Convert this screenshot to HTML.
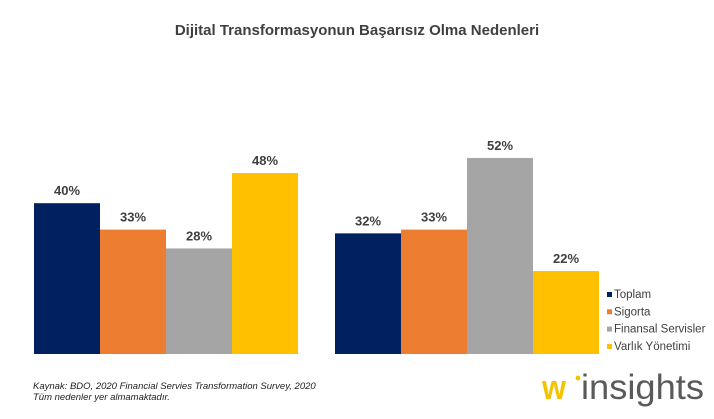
<!DOCTYPE html>
<html><head><meta charset="utf-8"><style>
body{margin:0;background:#fff;font-family:"Liberation Sans",sans-serif}
#c{position:relative;width:714px;height:419px;overflow:hidden}
</style></head><body>
<div id="c">
<svg id="s" width="714" height="419">
<text x="357" y="35" text-anchor="middle" font-size="15" font-weight="bold" fill="#404040">Dijital Transformasyonun Başarısız Olma Nedenleri</text>
<g id="bars"></g>
<g id="legend"></g>
<text x="33" y="389" font-size="9.5" font-style="italic" fill="#222">Kaynak: BDO, 2020 Financial Servies Transformation Survey, 2020</text>
<text x="33" y="400" font-size="9.5" font-style="italic" fill="#222">Tüm nedenler yer almamaktadır.</text>
<g>
<text x="542" y="399" font-size="34" font-weight="bold" fill="#f5c400" textLength="24" lengthAdjust="spacingAndGlyphs">w</text>
<circle cx="578" cy="378" r="2.4" fill="#f5c400"/>
<text x="581" y="399" font-size="35" fill="#5a5a5a" textLength="123" lengthAdjust="spacingAndGlyphs">insights</text>
</g>
</svg>
</div>
<script>
const groups=["Grup 1","Grup 2"];
const series=["Toplam","Sigorta","Finansal Servisler","Varlık Yönetimi"];
const colors=["#002060","#ed7d31","#a5a5a5","#ffc000"];
const values=[[40,33,28,48],[32,33,52,22]];
const ns="http://www.w3.org/2000/svg";
const base=354, pxPer=3.77, groupX=[34,335], bw=66;
const y=v=>base-v*pxPer;
const gb=document.getElementById('bars');
values.forEach((row,gi)=>{row.forEach((v,si)=>{
 const r=document.createElementNS(ns,'rect');
 const x=groupX[gi]+si*bw;
 r.setAttribute('x',x);r.setAttribute('y',y(v));r.setAttribute('width',bw);r.setAttribute('height',base-y(v));r.setAttribute('fill',colors[si]);
 
 
 gb.appendChild(r);
 const t=document.createElementNS(ns,'text');
 t.setAttribute('x',x+bw/2);t.setAttribute('y',y(v)-8);t.setAttribute('text-anchor','middle');t.setAttribute('font-size','13');t.setAttribute('font-weight','bold');t.setAttribute('fill','#404040');
 t.textContent=v+'%';
 
 
 gb.appendChild(t);
});});
const gl=document.getElementById('legend');
series.forEach((s,i)=>{
 const yy=298+i*17.3;
 const r=document.createElementNS(ns,'rect');
 r.setAttribute('x',607);r.setAttribute('y',yy-6);r.setAttribute('width',5);r.setAttribute('height',5);r.setAttribute('fill',colors[i]);
 
 
 gl.appendChild(r);
 const t=document.createElementNS(ns,'text');
 t.setAttribute('x',614);t.setAttribute('y',yy);t.setAttribute('font-size','11.5');t.setAttribute('fill','#404040');
 t.textContent=s;
 
 
 gl.appendChild(t);
});
</script>
</body></html>
